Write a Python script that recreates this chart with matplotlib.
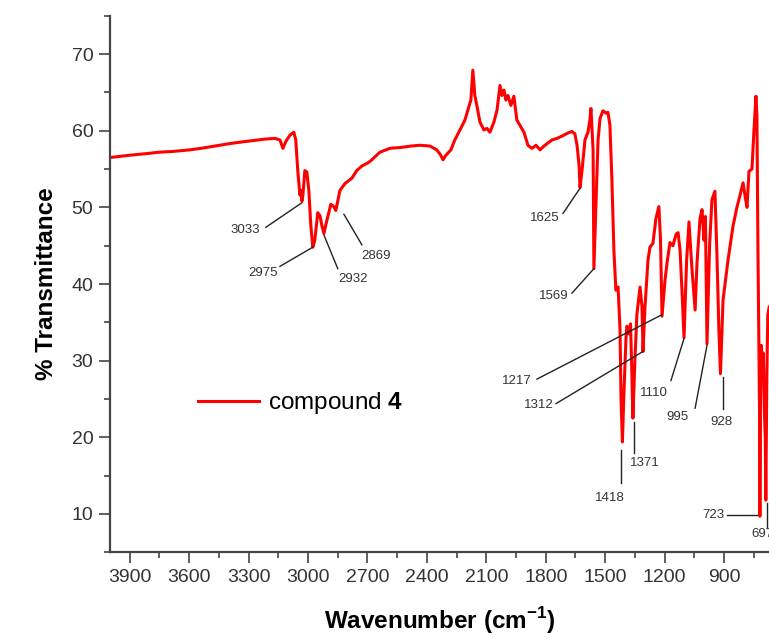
import numpy as np
import matplotlib
matplotlib.use("Agg")
import matplotlib.pyplot as plt
from matplotlib.ticker import MultipleLocator

plt.rcParams['font.family'] = ['Liberation Sans', 'DejaVu Sans']
plt.rcParams['mathtext.fontset'] = 'custom'
plt.rcParams['mathtext.rm'] = 'Liberation Sans'
plt.rcParams['mathtext.bf'] = 'Liberation Sans:bold'

# IR spectrum (wavenumber in cm-1, % transmittance)
wn = [4000, 3900, 3820, 3748, 3680, 3597, 3540, 3471, 3400, 3344, 3280, 3218,
      3168, 3142, 3127, 3112, 3092, 3072, 3062, 3052, 3041, 3036, 3031, 3026,
      3016, 3006, 2996, 2986, 2976, 2966, 2951, 2940, 2930, 2920, 2905, 2885,
      2870, 2860, 2839, 2814, 2779, 2754, 2728, 2698, 2678, 2637, 2587, 2536,
      2480, 2435, 2385, 2350, 2330, 2319, 2304, 2279, 2259, 2233, 2208, 2193,
      2178, 2168, 2158, 2148, 2132, 2112, 2097, 2082, 2062, 2046, 2031, 2021,
      2011, 2001, 1991, 1976, 1961, 1946, 1930, 1910, 1890, 1870, 1849, 1829,
      1809, 1789, 1768, 1743, 1718, 1688, 1668, 1653, 1642, 1632, 1627, 1617,
      1602, 1587, 1577, 1572, 1561, 1557, 1546, 1536, 1526, 1511, 1496, 1486,
      1476, 1466, 1456, 1446, 1435, 1425, 1420, 1413, 1405, 1395, 1390, 1380,
      1372, 1365, 1360, 1350, 1340, 1324, 1314, 1309, 1299, 1284, 1274, 1259,
      1244, 1229, 1221, 1213, 1198, 1188, 1173, 1158, 1142, 1132, 1122, 1112,
      1102, 1089, 1077, 1062, 1046, 1036, 1021, 1011, 1001, 994, 986, 973,
      961, 946, 936, 926, 918, 905, 880, 855, 835, 820, 804, 794, 784, 774,
      759, 749, 739, 734, 729, 724, 721, 719, 716, 712, 707, 702, 697, 692,
      689, 684, 679, 672]
trans = [56.5, 56.8, 57.0, 57.2, 57.3, 57.5, 57.7, 58.0, 58.3, 58.5, 58.7, 58.9,
         59.0, 58.8, 57.7, 58.6, 59.4, 59.8, 58.8, 54.8, 51.6, 52.2, 50.8, 51.6,
         54.8, 54.6, 52.2, 47.6, 44.8, 45.7, 49.3, 48.9, 47.6, 46.6, 48.3, 50.4,
         50.1, 49.6, 52.2, 53.1, 53.8, 54.8, 55.4, 55.8, 56.2, 57.2, 57.7, 57.8,
         58.0, 58.1, 58.0, 57.5, 56.8, 56.2, 56.8, 57.5, 58.8, 60.1, 61.4, 62.7,
         64.0, 67.9, 64.6, 63.3, 61.1, 60.1, 60.3, 59.8, 61.1, 62.7, 65.9, 64.6,
         65.3, 64.0, 64.6, 63.3, 64.5, 61.4, 60.7, 59.8, 58.1, 57.7, 58.1, 57.5,
         58.0, 58.4, 58.8, 59.0, 59.3, 59.7, 59.9, 59.6, 58.1, 55.5, 52.6, 54.8,
         58.8, 59.8, 61.4, 62.9, 57.5, 42.0, 50.9, 58.8, 61.6, 62.6, 62.3, 62.4,
         60.7, 53.5, 44.4, 39.2, 39.6, 34.0, 25.0, 19.4, 26.0, 33.0, 34.5, 33.5,
         34.8, 28.0, 22.5, 30.0, 36.0, 39.6, 37.0, 31.2, 37.0, 43.1, 44.8, 45.3,
         48.5, 50.1, 46.0, 35.8, 40.5, 42.7, 45.4, 45.0, 46.5, 46.7, 44.4, 39.0,
         33.0, 43.0, 48.1, 42.0, 36.6, 43.0, 48.6, 49.7, 45.7, 48.8, 32.2, 45.0,
         51.0, 52.1, 44.0, 34.0, 28.3, 37.9, 43.1, 47.5, 50.0, 51.5, 53.2, 51.5,
         50.0, 54.7, 55.0, 60.0, 64.5, 62.0, 45.0, 31.0, 24.0, 9.7, 25.0, 32.0,
         29.0, 31.0, 24.0, 20.0, 11.8, 28.0, 36.0, 37.0]

# peak labels: text, text position, leader start, leader end
labels = ["3033", "2975", "2932", "2869", "1625", "1569", "1217", "1312",
          "1110", "995", "928", "1418", "1371", "723", "697"]
text_pos = [(3319, 47.0), (3228, 41.4), (2774, 40.7), (2658, 43.6),
            (1804, 48.6), (1759, 38.4), (1945, 27.4), (1834, 24.2),
            (1254, 25.8), (1137, 22.6), (915, 22.0), (1476, 12.1),
            (1299, 16.6), (956, 9.9), (708, 7.4)]
lead_a = [(3213, 47.4), (3142, 42.3), (2850, 42.0), (2728, 45.1),
          (1713, 49.2), (1668, 38.8), (1844, 27.6), (1748, 24.4),
          (1168, 27.4), (1046, 23.8), (905, 27.9), (1420, 18.3),
          (1355, 22.0), (885, 9.9), (683, 11.4)]
lead_b = [(3031, 50.6), (2976, 44.8), (2920, 46.4), (2819, 49.1),
          (1627, 52.5), (1557, 42.0), (1213, 36.0), (1309, 31.2),
          (1102, 32.9), (986, 32.0), (905, 23.7), (1420, 14.1),
          (1355, 17.9), (733, 9.9), (683, 8.2)]

fig = plt.figure(figsize=(7.69, 6.39), dpi=100)
ax = fig.add_axes([0.143, 0.1357, 0.857, 0.8397])

ax.plot(wn, trans, color='#ff0000', lw=2.2, label='compound $\\mathbf{4}$')

for lab, tp, a, b in zip(labels, text_pos, lead_a, lead_b):
    ax.plot([a[0], b[0]], [a[1], b[1]], color='#222222', lw=1.0, clip_on=False)
    ax.text(tp[0], tp[1], lab, fontsize=9.5, color='#333333',
            ha='center', va='center', clip_on=False)

ax.set_xlim(4000, 673)
ax.set_ylim(5, 75)
ax.xaxis.set_major_locator(MultipleLocator(300))
ax.xaxis.set_minor_locator(MultipleLocator(150))
ax.yaxis.set_major_locator(MultipleLocator(10))
ax.yaxis.set_minor_locator(MultipleLocator(5))

for s in ['top', 'right']:
    ax.spines[s].set_visible(False)
for s in ['left', 'bottom']:
    ax.spines[s].set_linewidth(1.6)
    ax.spines[s].set_color('#444444')

ax.tick_params(which='major', length=8, width=1.2, color='#444444',
               labelsize=14, labelcolor='#333333', pad=4)
ax.tick_params(which='minor', length=4, width=1.2, color='#444444')

ax.set_xlabel('Wavenumber (cm$^{\\mathbf{-1}}$)', fontsize=17.5,
              fontweight='bold', labelpad=14)
ax.set_ylabel('% Transmittance', fontsize=17.5, fontweight='bold', labelpad=10)

ax.legend(loc='center left', bbox_to_anchor=(0.134, 0.278), frameon=False,
          fontsize=17.5, handlelength=2.5, handletextpad=0.35,
          borderpad=0, borderaxespad=0)

fig.savefig('out.png', dpi=100)
